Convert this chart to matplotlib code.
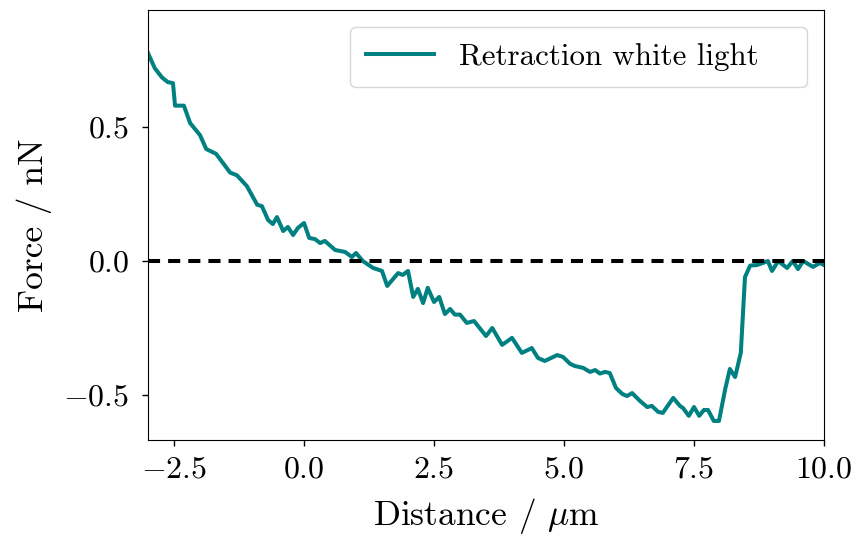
import matplotlib
matplotlib.use('Agg')
import matplotlib.pyplot as plt

plt.rcParams['font.family'] = 'serif'
plt.rcParams['font.serif'] = ['cmr10']
plt.rcParams['mathtext.fontset'] = 'cm'
plt.rcParams['axes.formatter.use_mathtext'] = True

# retraction curve
distance = [-3.00, -2.87, -2.73, -2.62, -2.52, -2.48, -2.42, -2.31, -2.19, -2.00,
            -1.88, -1.69, -1.42, -1.29, -1.10, -0.90, -0.81, -0.69, -0.60, -0.52,
            -0.40, -0.31, -0.21, -0.12, 0.00, 0.10, 0.21, 0.31, 0.40, 0.60,
            0.79, 0.92, 1.00, 1.13, 1.33, 1.50, 1.60, 1.81, 1.90, 2.00,
            2.10, 2.19, 2.29, 2.38, 2.50, 2.60, 2.71, 2.81, 2.90, 3.00,
            3.13, 3.27, 3.50, 3.62, 3.81, 4.00, 4.19, 4.38, 4.50, 4.63,
            4.87, 4.98, 5.12, 5.21, 5.37, 5.50, 5.60, 5.69, 5.79, 5.88,
            6.00, 6.12, 6.21, 6.31, 6.46, 6.60, 6.69, 6.81, 6.90, 7.10,
            7.23, 7.29, 7.40, 7.50, 7.60, 7.69, 7.77, 7.88, 7.98, 8.10,
            8.19, 8.29, 8.40, 8.48, 8.58, 8.71, 8.83, 8.92, 9.00, 9.12,
            9.29, 9.40, 9.50, 9.60, 9.79, 9.92, 10.00]
force = [0.776, 0.72, 0.685, 0.668, 0.664, 0.58, 0.58, 0.58, 0.515, 0.47,
         0.418, 0.40, 0.33, 0.32, 0.28, 0.21, 0.205, 0.153, 0.138, 0.164,
         0.112, 0.127, 0.097, 0.123, 0.142, 0.086, 0.082, 0.067, 0.075, 0.041,
         0.034, 0.015, 0.03, 0.0, -0.026, -0.037, -0.093, -0.045, -0.052, -0.037,
         -0.134, -0.104, -0.157, -0.10, -0.153, -0.134, -0.198, -0.179, -0.20, -0.20,
         -0.231, -0.224, -0.28, -0.25, -0.313, -0.287, -0.343, -0.325, -0.362, -0.373,
         -0.351, -0.358, -0.384, -0.392, -0.399, -0.414, -0.407, -0.42, -0.414, -0.418,
         -0.474, -0.496, -0.504, -0.493, -0.522, -0.545, -0.541, -0.563, -0.567, -0.511,
         -0.541, -0.549, -0.578, -0.545, -0.578, -0.556, -0.556, -0.597, -0.597, -0.478,
         -0.403, -0.433, -0.343, -0.06, -0.017, -0.015, -0.007, 0.0, -0.037, 0.0,
         -0.026, 0.0, -0.03, 0.0, -0.022, -0.007, -0.015]

fig = plt.figure(figsize=(8.57, 5.38), dpi=100)
ax = fig.add_axes([0.1727, 0.1822, 0.7888, 0.7992])

ax.plot(distance, force, color='#008080', lw=2.9, label='Retraction white light')
ax.axhline(0, color='black', ls='--', lw=2.9, dashes=(3, 2))

ax.set_xlim(-3, 10)
ax.set_ylim(-0.668, 0.937)
ax.set_xticks([-2.5, 0, 2.5, 5, 7.5, 10])
ax.set_yticks([-0.5, 0, 0.5])
ax.tick_params(labelsize=23, length=4.5, width=1)
ax.tick_params(axis='x', pad=7)
ax.tick_params(axis='y', pad=9)
ax.set_xlabel(r'Distance / $\mu$m', fontsize=25.5)
ax.set_ylabel('Force / nN', fontsize=25.5)
ax.xaxis.set_label_coords(0.5, -0.13)
ax.yaxis.set_label_coords(-0.142, 0.5)
ax.legend(loc='upper left', fontsize=22.3, handlelength=2.2, borderpad=0.52,
          bbox_to_anchor=(0.299, 0.5, 0.676, 0.4605), mode='expand',
          borderaxespad=0)

fig.savefig('out.png', dpi=100)
